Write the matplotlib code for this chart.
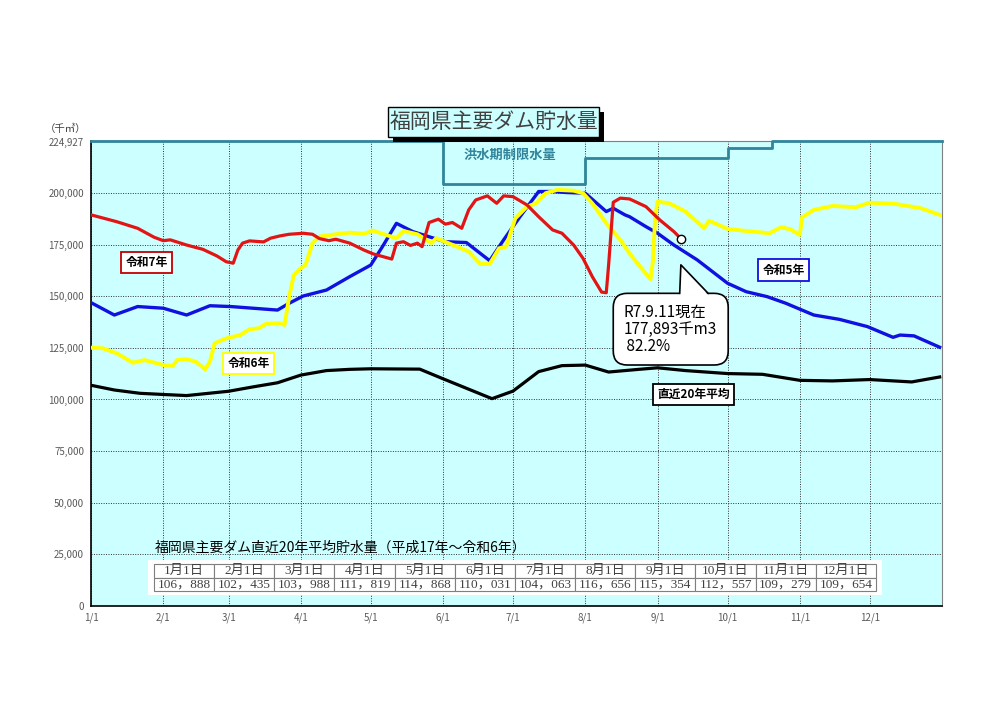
import numpy as np
import matplotlib
matplotlib.use('Agg')
import matplotlib.pyplot as plt
from matplotlib.patches import FancyBboxPatch, Polygon, Rectangle
from matplotlib.ticker import FuncFormatter

plt.rcParams['font.family'] = ['Noto Sans CJK JP', 'DejaVu Sans']

# day of year (0 = 1/1), storage in 千m3
r7_days = [0, 11, 20, 27, 31, 34, 41, 48, 54, 58, 61, 63, 65, 68, 74, 77, 81, 85, 91, 95,
           98, 102, 105, 111, 117, 121, 129, 131, 134, 137, 140, 142, 145, 149, 152, 155, 159, 162, 165, 170,
           174, 177, 181, 187, 192, 198, 202, 207, 211, 215, 219, 221, 222, 224, 227, 231, 238, 244, 250, 253]
r7_vals = [189400, 186100, 182900, 178600, 176900, 177300, 174800, 172700, 169500, 166700,
           166000, 172400, 175700, 176800, 176300, 178100, 179200, 180000, 180500, 180000,
           177900, 176900, 177600, 175700, 172400, 170500, 168000, 175700, 176400, 174600,
           175700, 174000, 185700, 187300, 184900, 185700, 182900, 191800, 196600, 198600,
           195000, 198600, 198200, 194200, 188500, 182100, 180500, 174800, 168400, 159500,
           152000, 151700, 165000, 195500, 197500, 197100, 193400, 186900, 181300, 177893]

r6_days = [0, 5, 11, 18, 23, 31, 35, 37, 41, 45, 49, 51, 53, 58, 64, 68, 72, 75, 81, 83,
           85, 87, 90, 92, 95, 98, 105, 111, 117, 121, 125, 131, 134, 140, 146, 148, 157, 162, 167, 171,
           175, 178, 182, 187, 191, 195, 200, 207, 211, 215, 221, 227, 232, 240, 241, 242, 243, 248, 255, 263,
           265, 273, 281, 291, 296, 300, 304, 305, 310, 318, 328, 334, 345, 356, 358, 364]
r6_vals = [125100, 124800, 122400, 117800, 119100, 116700, 116200, 119100, 119500, 118300,
           114600, 118300, 127200, 129600, 131200, 134000, 134500, 136600, 136900, 136100,
           149800, 160300, 163600, 165100, 175700, 178900, 180000, 180800, 180200, 181800,
           180200, 178100, 181600, 180000, 175700, 178100, 174000, 171600, 165600, 165600,
           173200, 174000, 187700, 193400, 195000, 199900, 201500, 201100, 199900, 195000,
           185300, 177300, 169200, 158200, 166800, 188500, 195800, 195000, 191000, 182900,
           186600, 182600, 181600, 180500, 183400, 182400, 179700, 188200, 191800, 193700,
           193100, 195300, 194700, 192600, 191800, 189400]

r5_days = [0, 10, 20, 31, 41, 51, 60, 80, 85, 91, 101, 111, 120, 125, 131, 138, 147, 152, 161, 171,
           177, 184, 192, 198, 204, 212, 221, 224, 229, 231, 238, 243, 250, 260, 273, 281, 290, 298, 310, 321,
           333, 344, 347, 353, 364]
r5_vals = [146900, 140900, 145000, 144200, 140900, 145400, 145000, 143300, 146600, 150100,
           153000, 159500, 165100, 174000, 185300, 181300, 178100, 176400, 176000, 167200,
           177300, 188500, 200700, 200700, 200200, 199900, 191000, 192600, 189400, 188500,
           183700, 180500, 174800, 167600, 156300, 152200, 149800, 146600, 140900, 138800,
           135300, 130100, 131200, 130800, 125300]

avg_days = [0, 10, 21, 31, 41, 59, 70, 80, 90, 101, 111, 120, 141, 151, 172, 181, 192, 202, 212, 222,
            235, 243, 255, 273, 288, 304, 318, 334, 352, 364]
avg_vals = [106888, 104600, 103000, 102435, 101900, 103988, 106200, 108100, 111819, 114000,
            114600, 114868, 114700, 110031, 100400, 104063, 113500, 116400, 116656, 113300,
            114600, 115354, 114000, 112557, 112200, 109279, 109000, 109654, 108500, 110900]

flood_days = [0, 151, 212, 273, 292]
flood_levels = [224927, 204200, 216900, 221600, 224927]

capacity = 224927
month_lengths = [31, 28, 31, 30, 31, 30, 31, 31, 30, 31, 30, 31]
month_labels = [f'{m}/1' for m in range(1, 13)]

table_labels = [f'{m}月1日' for m in range(1, 13)]
table_vals = ['106，888', '102，435', '103，988', '111，819', '114，868', '110，031',
              '104，063', '116，656', '115，354', '112，557', '109，279', '109，654']

month_starts = np.concatenate([[0], np.cumsum(month_lengths)[:-1]])

fig = plt.figure(figsize=(10, 7.06), dpi=100)
ax = fig.add_axes([0.091, 0.1416, 0.851, 0.658])
ax.set_facecolor('#CCFFFF')
ax.set_xlim(0, 365)
ax.set_ylim(0, capacity)

ax.set_yticks(list(range(0, 200001, 25000)) + [capacity])
ax.yaxis.set_major_formatter(FuncFormatter(lambda v, p: f'{int(v):,}'))
ax.set_xticks(month_starts)
ax.set_xticklabels(month_labels)
ax.tick_params(length=0, labelsize=7, labelcolor='#595959', pad=5)
ax.grid(True, color='#333333', linestyle=(0, (1, 1.5)), linewidth=0.7)
for s in ['left', 'bottom']:
    ax.spines[s].set_color('black')
    ax.spines[s].set_linewidth(1.2)
for s in ['top', 'right']:
    ax.spines[s].set_color('#7F7F7F')
    ax.spines[s].set_linewidth(0.8)

# flood season limit
ax.step(flood_days + [365], flood_levels + [flood_levels[-1]], where='post',
        color='#31849B', lw=2, zorder=3, clip_on=False)
ax.text(179.7, 218400, '洪水期制限水量', color='#31849B', fontsize=9.5,
        fontweight='bold', ha='center', va='center')

ax.plot(avg_days, avg_vals, color='black', lw=2.3, zorder=4, solid_joinstyle='round')
ax.plot(r5_days, r5_vals, color='#1010E0', lw=2.4, zorder=4, solid_joinstyle='round')
ax.plot(r6_days, r6_vals, color='#FFFF00', lw=2.8, zorder=4, solid_joinstyle='round')
ax.plot(r7_days, r7_vals, color='#E31414', lw=2.3, zorder=5, solid_joinstyle='round')
ax.plot(r7_days[-1], r7_vals[-1], 'o', ms=6, mfc='white', mec='black', mew=1, zorder=9)

def tag(x, y, s, ec):
    ax.text(x, y, s, fontsize=8.5, fontweight='bold', ha='center', va='center', zorder=8,
            bbox=dict(boxstyle='square,pad=0.35', fc='white', ec=ec, lw=1.3))

tag(23.8, 166300, '令和7年', '#C00000')
tag(67.5, 117300, '令和6年', '#FFFF00')
tag(297, 162700, '令和5年', '#1010E0')
tag(258.6, 102300, '直近20年平均', 'black')

# callout
tip_x, tip_y = r7_days[-1], r7_vals[-1] - 12700
bx0, bx1 = 224, 273.3
by0, by1 = 116700, 151400
ax.add_patch(FancyBboxPatch((bx0, by0), bx1 - bx0, by1 - by0,
                            boxstyle='round,pad=0,rounding_size=6', mutation_aspect=1129,
                            fc='white', ec='black', lw=1.2, zorder=7))
ax.add_patch(Polygon([(tip_x - 0.5, by1 - 800), (tip_x, tip_y), (tip_x + 11.7, by1 - 800)],
                     closed=True, fc='white', ec='none', zorder=7.5))
ax.plot([tip_x - 0.5, tip_x, tip_x + 11.7], [by1, tip_y, by1], color='black', lw=1.2, zorder=7.6)
ax.text(228.3, 146300, 'R7.9.11現在\n177,893千m3\n 82.2%', fontsize=11, ha='left', va='top',
        linespacing=1.02, zorder=8)

# 20-year average table
ax.add_patch(Rectangle((0.067, 0.0237), 0.8625, 0.0753, transform=ax.transAxes,
                       fc='white', ec='none', zorder=4))
tab = ax.table(cellText=[table_labels, table_vals], cellLoc='center',
               bbox=[0.074, 0.0323, 0.8484, 0.0581], zorder=5)
tab.auto_set_font_size(False)
for cell in tab.get_celld().values():
    cell.set_edgecolor('#7F7F7F')
    cell.set_linewidth(0.8)
    cell.set_facecolor('white')
    cell.get_text().set_fontsize(9.5)
    cell.get_text().set_color('#404040')
    cell.get_text().set_fontfamily(['Liberation Serif', 'Noto Sans CJK JP'])
ax.text(0.0752, 0.1249, '福岡県主要ダム直近20年平均貯水量（平成17年～令和6年）',
        transform=ax.transAxes, fontsize=10, va='center', ha='left', zorder=6)

# title
fig.patches.append(Rectangle((0.393, 1 - 142 / 706), 0.211, 30 / 706, transform=fig.transFigure,
                             fc='black', ec='none'))
fig.patches.append(Rectangle((0.388, 1 - 137 / 706), 0.211, 30 / 706, transform=fig.transFigure,
                             fc='#CCFFFF', ec='black', lw=1))
fig.text(0.4935, 1 - 122 / 706, '福岡県主要ダム貯水量', ha='center', va='center',
         fontsize=15, color='#404040')
fig.text(0.045, 1 - 129 / 706, '（千㎥）', fontsize=7.5, color='#404040', va='center')

fig.savefig('out.png', dpi=100, facecolor='white')
